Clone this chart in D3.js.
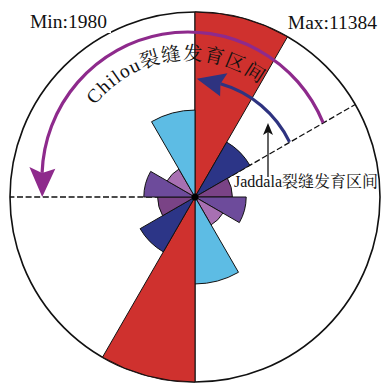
<!DOCTYPE html>
<html><head><meta charset="utf-8">
<script src="https://cdn.jsdelivr.net/npm/d3@7"></script>
<style>body{margin:0;background:#fff}svg{display:block}</style>
</head><body>
<svg id="c" width="381" height="384"></svg>
<script>
// ---- data ----
const binStart = [0, 30, 60, 90, 120, 150, 180, 210, 240, 270, 300, 330]; // degrees
const binWidth = 30;
const counts   = [11384, 3900, 2300, 3150, 1980, 5350, 11384, 3900, 2300, 3150, 1980, 5350];
const binColors = ["#cf312e", "#2c3587", "#7a4386", "#6d4b9b", "#a870b2", "#5dbce4",
                   "#cf312e", "#2c3587", "#7a4386", "#6d4b9b", "#a870b2", "#5dbce4"];
const minCount = 1980, maxCount = 11384;
const chilouLabel = "Chilou裂缝发育区间";
const jaddalaLabel = "Jaddala裂缝发育区间";
const chilouRange = [270, 60];   // degrees (compass)
const jaddalaRange = [0, 60];

// ---- layout ----
const W = 381, H = 384, cx = 195, cy = 197, R = 185;
const svg = d3.select("#c");
const rad = d => d * Math.PI / 180;
const pt = (x0, y0, r, deg) => [x0 + r * Math.sin(rad(deg)), y0 - r * Math.cos(rad(deg))];
const font = "'Liberation Serif','Times New Roman','Noto Serif CJK SC','Noto Sans CJK SC',serif";

const rScale = d3.scaleLinear().domain([0, maxCount]).range([0, R]);

const g = svg.append("g").attr("transform", `translate(${cx},${cy})`);

// outer circle
g.append("circle").attr("r", R).attr("fill", "#fff").attr("stroke", "#111").attr("stroke-width", 1.6);

// vertical reference line
g.append("line").attr("x1", 0).attr("x2", 0).attr("y1", -R).attr("y2", R)
  .attr("stroke", "#111").attr("stroke-width", 1.2);

// dashed boundary lines of intervals
[chilouRange[0], jaddalaRange[1]].forEach(a => {
  const [x, y] = pt(0, 0, R, a);
  g.append("line").attr("x1", 0).attr("y1", 0).attr("x2", x).attr("y2", y)
    .attr("stroke", "#111").attr("stroke-width", 1.3).attr("stroke-dasharray", "6,2.6");
});

// rose sectors
const arc = d3.arc().innerRadius(0);
g.selectAll("path.sector").data(binStart.map((s, i) => ({s, v: counts[i], c: binColors[i]})))
  .join("path").attr("class", "sector")
  .attr("d", d => arc({startAngle: rad(d.s), endAngle: rad(d.s + binWidth), outerRadius: rScale(d.v)}))
  .attr("fill", d => d.c).attr("stroke", "#111").attr("stroke-width", 1);

g.append("circle").attr("r", 3.5).attr("fill", "#000");

// curved arrows
function curvedArrow(o) {
  const p = d3.path();
  const a0 = rad(o.from - 90), a1 = rad(o.notch - 90);
  p.arc(o.x, o.y, o.r, a0, a1, o.from > o.notch);
  svg.append("path").attr("d", p.toString()).attr("fill", "none")
    .attr("stroke", o.color).attr("stroke-width", o.w);
  const b1 = pt(o.x, o.y, o.r + o.hw, o.barb), b2 = pt(o.x, o.y, o.r - o.hw, o.barb);
  const t = pt(o.x, o.y, o.r + 1, o.tip), n = pt(o.x, o.y, o.r, o.notch);
  svg.append("path").attr("d", `M${b1}L${t}L${b2}L${n}Z`).attr("fill", o.color);
}
curvedArrow({x: 188, y: 178, r: 146, from: chilouRange[1] + 7.7, notch: chilouRange[0] + 2 - 360,
  barb: chilouRange[0] + 4 - 360, tip: chilouRange[0] - 7.4 - 360, hw: 13, w: 3.2, color: "#8e2a8c"});
curvedArrow({x: 190, y: 190, r: 110.5, from: jaddalaRange[1] + 4.2, notch: 16, barb: 17.8,
  tip: jaddalaRange[0] + 3.5, hw: 12, w: 3.2, color: "#2e3380"});

// text along Chilou arc
const tp = d3.path();
tp.arc(188, 178, 118, rad(-52 - 90), rad(50 - 90), false);
svg.append("defs").append("path").attr("id", "chPath").attr("d", tp.toString());
svg.append("text").attr("font-size", 19.5).attr("font-family", font).attr("fill", "#111")
  .attr("letter-spacing", 1.2)
  .append("textPath").attr("href", "#chPath").text(chilouLabel);

// Jaddala label + arrow
svg.append("text").attr("x", 234).attr("y", 187).attr("font-size", 16).attr("font-family", font)
  .attr("fill", "#111").text(jaddalaLabel);
svg.append("line").attr("x1", 268).attr("x2", 268).attr("y1", 177).attr("y2", 130)
  .attr("stroke", "#111").attr("stroke-width", 1.3);
svg.append("path").attr("d", "M268,123L273,135L268,132L263,135Z").attr("fill", "#111");

// Min / Max labels
svg.append("rect").attr("x", 5).attr("y", 12).attr("width", 106).attr("height", 21).attr("fill", "#fff");
svg.append("text").attr("x", 30).attr("y", 27.5).attr("font-family", font).attr("font-size", 19.5)
  .attr("fill", "#111").text("Min:" + minCount);
svg.append("text").attr("x", 377).attr("y", 28.5).attr("text-anchor", "end").attr("font-family", font)
  .attr("font-size", 19.5).attr("fill", "#111").text("Max:" + maxCount);
</script>
</body></html>
